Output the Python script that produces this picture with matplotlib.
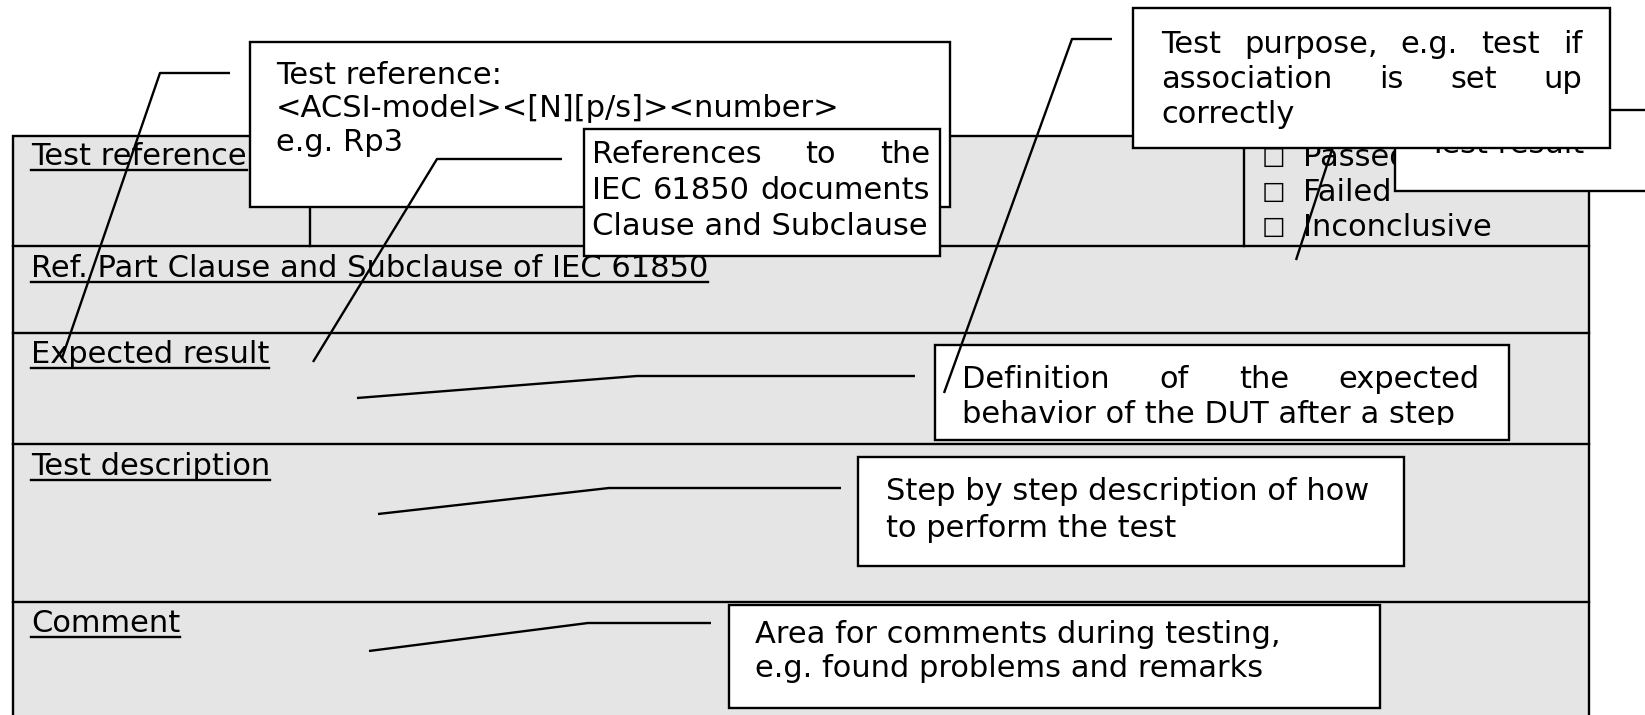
import matplotlib
matplotlib.use("Agg")
import matplotlib.pyplot as plt
from matplotlib.patches import Rectangle

# --- texts of the test case form ---
row_labels = ['Test reference', 'Ref. Part Clause and Subclause of IEC 61850',
              'Expected result', 'Test description', 'Comment']
result_options = ['Passed', 'Failed', 'Inconclusive']

callout_ref = ['Test reference:', '<ACSI-model><[N][p/s]><number>', 'e.g. Rp3']
callout_clause = ['References to the', 'IEC 61850 documents', 'Clause and Subclause']
callout_purpose = ['Test purpose, e.g. test if', 'association is set up', 'correctly']
callout_result = ['Test result']
callout_expected = ['Definition of the expected', 'behavior of the DUT after a step']
callout_descr = ['Step by step description of how', 'to perform the test']
callout_comment = ['Area for comments during testing,', 'e.g. found problems and remarks']

# --- layout (pixel coordinates, y down) ---
W, H = 1645, 715
FS = 22
LW = 1.7
GREY = '#e5e5e5'
FONT = 'DejaVu Sans'

table_x = (13, 1589)
row_edges = [136, 246, 333, 444, 602, 740]
label_base = [165, 277, 363, 475, 632]
dividers = [310, 1244]
check_x, check_base = 1265, [166, 201, 236]

fig = plt.figure(figsize=(W / 100, H / 100), dpi=100)
ax = fig.add_axes([0, 0, 1, 1])
ax.set_xlim(0, W)
ax.set_ylim(H, 0)
ax.axis('off')
rend = fig.canvas.get_renderer()


def text_w(t):
    return t.get_window_extent(rend).width


def put_line(x, y, s, right=None, z=2, **kw):
    kw = dict(fontsize=FS, family=FONT, va='baseline', ha='left', zorder=z, **kw)
    if right is None:
        return [ax.text(x, y, s, **kw)]
    words = s.split()
    arts = [ax.text(x, y, w, **kw) for w in words]
    widths = [text_w(a) for a in arts]
    gap = (right - x - sum(widths)) / (len(words) - 1)
    pos = x
    for a, w in zip(arts, widths):
        a.set_x(pos)
        pos += w + gap
    return arts


# table background and grid
ax.add_patch(Rectangle((table_x[0], row_edges[0]), table_x[1] - table_x[0],
                       row_edges[-1] - row_edges[0], facecolor=GREY,
                       edgecolor='black', lw=LW, zorder=1))
for y in row_edges[1:-1]:
    ax.plot(table_x, [y, y], color='black', lw=LW, zorder=1.1)
for x in dividers:
    ax.plot([x, x], [row_edges[0], row_edges[1]], color='black', lw=LW, zorder=1.1)

# underlined row labels
for lab, yb in zip(row_labels, label_base):
    t = put_line(31, yb, lab)[0]
    ax.plot([31, 31 + text_w(t)], [yb + 4.5, yb + 4.5], color='black', lw=1.7, zorder=2)

# result check boxes
for opt, yb in zip(result_options, check_base):
    ax.text(check_x - 3, yb + 1, '\u2610', fontsize=19, family=FONT, va='baseline', zorder=2)
    put_line(check_x + 38, yb, opt)

# callout boxes: (x0, y0, x1, y1), text x, right edge for justify, baselines, justified lines, zorder
boxes = [
    (callout_ref, (250, 42, 950, 207), 276, None, [84, 117, 151], [], 3),
    (callout_clause, (584, 129, 940, 256), 592, 930, [163, 199, 235], [0, 1], 4),
    (callout_result, (1395, 110, 1660, 191), 1428, None, [153], [], 5),
    (callout_purpose, (1133, 8, 1610, 148), 1161, 1582, [53, 88, 123], [0, 1], 6),
    (callout_expected, (935, 345, 1509, 440), 962, 1480, [388, 423], [0], 3),
    (callout_descr, (858, 457, 1404, 566), 886, None, [500, 537], [], 3),
    (callout_comment, (729, 605, 1380, 708), 755, None, [643, 677], [], 3),
]
for lines, (x0, y0, x1, y1), tx, right, bases, just, z in boxes:
    ax.add_patch(Rectangle((x0, y0), x1 - x0, y1 - y0, facecolor='white',
                           edgecolor='black', lw=LW, zorder=z))
    for i, (s, yb) in enumerate(zip(lines, bases)):
        arts = put_line(tx, yb, s, right=right if i in just else None, z=z + 0.2)
        if lines is callout_expected:
            clip = Rectangle((x0, y0), x1 - x0, 425 - y0, transform=ax.transData)
            for a in arts:
                a.set_clip_on(True)
                a.set_clip_path(clip)

# leader lines
leaders = [
    ([230, 160, 62], [73, 73, 358], 2.5),
    ([562, 437, 313], [159, 159, 362], 3.5),
    ([1112, 1072, 944], [39, 39, 393], 3.5),
    ([1345, 1296], [110, 260], 2.5),
    ([357, 637, 915], [398, 376, 376], 2.5),
    ([378, 609, 841], [514, 488, 488], 2.5),
    ([369, 588, 711], [651, 623, 623], 2.5),
]
for xs, ys, z in leaders:
    ax.plot(xs, ys, color='black', lw=LW, zorder=z, solid_capstyle='butt')

fig.savefig('out.png', dpi=100)
